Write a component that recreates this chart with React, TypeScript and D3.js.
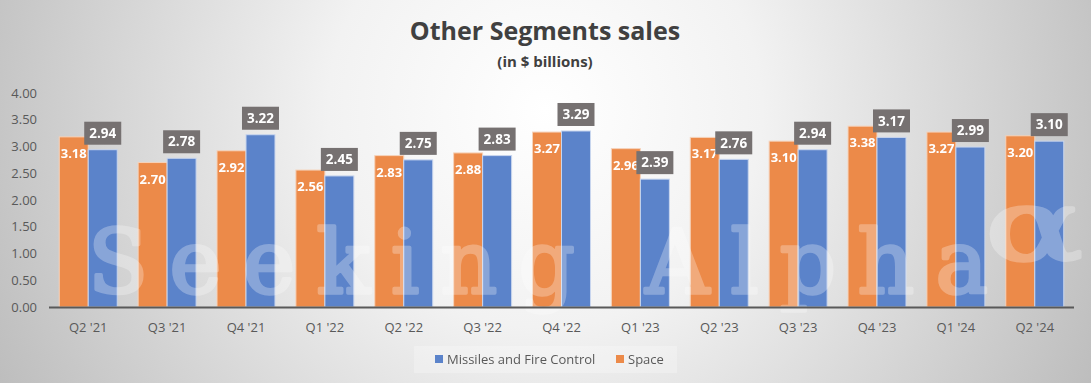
import React from "react";
import * as d3 from "d3";

const categories = ["Q2 '21", "Q3 '21", "Q4 '21", "Q1 '22", "Q2 '22", "Q3 '22", "Q4 '22", "Q1 '23", "Q2 '23", "Q3 '23", "Q4 '23", "Q1 '24", "Q2 '24"];
const spaceValues = [3.18, 2.70, 2.92, 2.56, 2.83, 2.88, 3.27, 2.96, 3.17, 3.10, 3.38, 3.27, 3.20];
const missilesValues = [2.94, 2.78, 3.22, 2.45, 2.75, 2.83, 3.29, 2.39, 2.76, 2.94, 3.17, 2.99, 3.10];
const yTicks = [0, 0.5, 1, 1.5, 2, 2.5, 3, 3.5, 4];
const seriesNames = ["Missiles and Fire Control", "Space"];

const W = 1091;
const H = 383;
const ORANGE = "#EC8A49";
const BLUE = "#5B83CA";
const FONT = "'Open Sans', 'Noto Sans', sans-serif";
const SERIF = "'DejaVu Serif', 'Liberation Serif', serif";

export default function App() {
  const x = d3.scaleBand<string>().domain(categories).range([49, 1074]).paddingInner(0.265).paddingOuter(0.13);
  const y = d3.scaleLinear().domain([0, 4]).range([307, 93]);
  const inner = d3.scaleBand<string>().domain(["space", "missiles"]).range([0, x.bandwidth()]).padding(0);
  const bw = inner.bandwidth();
  const sx = (i: number) => x(categories[i])! + inner("space")!;
  const mx = (i: number) => x(categories[i])! + inner("missiles")!;

  return (
    <svg width={W} height={H} style={{ position: "absolute", left: 0, top: 0 }} fontFamily={FONT}>
      <defs>
        <radialGradient id="bg" gradientUnits="userSpaceOnUse" cx={545} cy={110} r={620}>
          <stop offset="0" stopColor="#ffffff" />
          <stop offset="0.35" stopColor="#f2f2f2" />
          <stop offset="1" stopColor="#bcbcbc" />
        </radialGradient>
      </defs>
      <rect x={0} y={0} width={W} height={H} fill="url(#bg)" />

      <text x={545} y={40} textAnchor="middle" fontSize={25} fontWeight="bold" fill="#404040">Other Segments sales</text>
      <text x={545} y={67} textAnchor="middle" fontSize={15} fontWeight="bold" fill="#404040">(in $ billions)</text>

      {yTicks.map((t) => (
        <text key={t} x={37} y={y(t)} dy="0.35em" textAnchor="end" fontSize={13} fill="#595959">{t.toFixed(2)}</text>
      ))}

      {categories.map((c, i) => (
        <g key={c}>
          <rect x={sx(i)} y={y(spaceValues[i])} width={bw} height={y(0) - y(spaceValues[i])} fill={ORANGE} stroke="#f6d3bb" strokeWidth={1} />
          <rect x={mx(i)} y={y(missilesValues[i])} width={bw} height={y(0) - y(missilesValues[i])} fill={BLUE} stroke="#c9d6ee" strokeWidth={1} />
          <text x={x(c)! + x.bandwidth() / 2} y={327} dy="0.35em" textAnchor="middle" fontSize={13} fill="#595959">{c}</text>
        </g>
      ))}

      <g opacity={0.28} fill="#ffffff" stroke="#ffffff" strokeWidth={3.5} strokeLinejoin="round" fontFamily={SERIF}>
        <text x={88} y={293} fontSize={88} textLength={900} lengthAdjust="spacing">Seeking Alpha</text>
        <text x={0} y={0} fontSize={100} transform="translate(985,260) scale(1.45,1)">α</text>
      </g>

      <line x1={49} x2={1074} y1={307.5} y2={307.5} stroke="#595959" strokeWidth={2} />

      {categories.map((c, i) => (
        <text key={"s" + c} x={sx(i) + bw / 2} y={y(spaceValues[i]) + 21} textAnchor="middle" fontSize={13} fontWeight="bold" fill="#ffffff">{spaceValues[i].toFixed(2)}</text>
      ))}
      {categories.map((c, i) => (
        <g key={"m" + c}>
          <rect x={mx(i) + bw / 2 - 18.5} y={y(missilesValues[i]) - 28} width={37} height={23} fill="#767171" />
          <text x={mx(i) + bw / 2} y={y(missilesValues[i]) - 16.5} dy="0.35em" textAnchor="middle" fontSize={13.5} fontWeight="bold" fill="#ffffff">{missilesValues[i].toFixed(2)}</text>
        </g>
      ))}

      <rect x={414} y={346} width={263} height={27} fill="#ffffff" fillOpacity={0.25} />
      <rect x={435} y={355} width={8} height={8} fill={BLUE} />
      <text x={447} y={359} dy="0.35em" fontSize={13} fill="#595959">{seriesNames[0]}</text>
      <rect x={616} y={355} width={8} height={8} fill={ORANGE} />
      <text x={628} y={359} dy="0.35em" fontSize={13} fill="#595959">{seriesNames[1]}</text>
    </svg>
  );
}
